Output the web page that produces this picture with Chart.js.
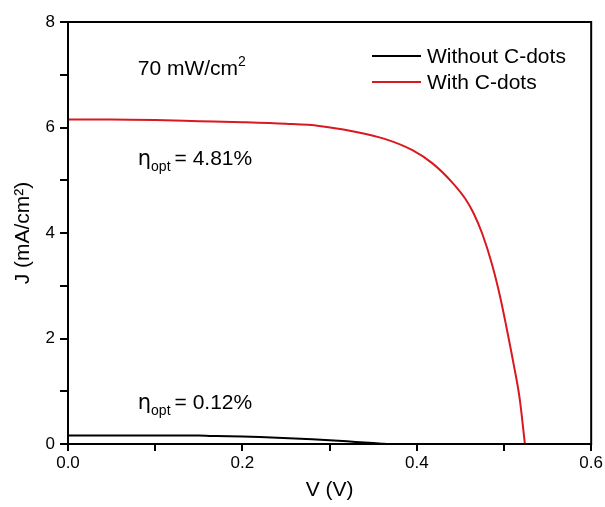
<!DOCTYPE html>
<html>
<head>
<meta charset="utf-8">
<script src="https://cdn.jsdelivr.net/npm/chart.js@4"></script>
<style>
  html, body { margin: 0; padding: 0; background: #fff; }
  #wrap { width: 605px; height: 507px; }
</style>
</head>
<body>
<div id="wrap"><canvas id="myChart" width="605" height="507"></canvas></div>
<script>
// courbes J-V
const withV = [0, 0.05, 0.10, 0.15, 0.20, 0.25, 0.288, 0.326, 0.364, 0.395, 0.418, 0.440, 0.456, 0.465, 0.475, 0.486, 0.496, 0.503, 0.511, 0.518, 0.524];
const withJ = [6.15, 6.15, 6.14, 6.12, 6.10, 6.07, 6.03, 5.93, 5.78, 5.57, 5.32, 4.97, 4.64, 4.38, 3.99, 3.42, 2.76, 2.20, 1.52, 0.86, 0.0];

const withoutV = [0, 0.05, 0.10, 0.15, 0.17, 0.20, 0.24, 0.28, 0.32, 0.34, 0.36, 0.365];
const withoutJ = [0.16, 0.16, 0.16, 0.16, 0.15, 0.14, 0.12, 0.09, 0.05, 0.03, 0.005, 0];

const seriesLabels = ["Without C-dots", "With C-dots"];
const xTickLabels = ["0.0", "0.2", "0.4", "0.6"];
const yTickLabels = ["0", "2", "4", "6", "8"];

const FONT = "'Liberation Sans', Arial, sans-serif";
const RED = "rgb(218, 24, 32)";

function toPoints(xs, ys) {
  return xs.map((v, i) => ({ x: v, y: ys[i] }));
}

// cadre, légende et annotations
const extras = {
  id: "extras",
  afterDraw(chart) {
    const { ctx, chartArea: a, scales } = chart;
    ctx.save();
    ctx.strokeStyle = "#000";
    ctx.lineWidth = 2;
    ctx.strokeRect(a.left, a.top, a.right - a.left, a.bottom - a.top);

    // légende
    ctx.font = "21px " + FONT;
    ctx.textBaseline = "middle";
    chart.data.datasets.forEach((ds, i) => {
      const y = 56 + i * 26;
      ctx.strokeStyle = ds.borderColor;
      ctx.lineWidth = 2;
      ctx.beginPath();
      ctx.moveTo(372, y);
      ctx.lineTo(421, y);
      ctx.stroke();
      ctx.fillStyle = "#000";
      ctx.fillText(ds.label, 427, y + 1);
    });

    // texte
    const x0 = scales.x.getPixelForValue(0.08);
    ctx.textBaseline = "alphabetic";
    ctx.fillStyle = "#000";
    ctx.font = "21px " + FONT;
    const y1 = scales.y.getPixelForValue(7.0);
    ctx.fillText("70 mW/cm", x0, y1);
    let w = ctx.measureText("70 mW/cm").width;
    ctx.font = "14px " + FONT;
    ctx.fillText("2", x0 + w, y1 - 9);

    function eta(txt, yv) {
      const y = scales.y.getPixelForValue(yv);
      ctx.font = "21px 'DejaVu Sans', sans-serif";
      ctx.fillText("\u03b7", x0, y);
      let xx = x0 + ctx.measureText("\u03b7").width;
      ctx.font = "14px " + FONT;
      ctx.fillText("opt", xx, y + 6);
      xx += ctx.measureText("opt").width + 4;
      ctx.font = "21px " + FONT;
      ctx.fillText(txt, xx, y);
    }
    eta("= 4.81%", 5.29);
    eta("= 0.12%", 0.66);
    ctx.restore();
  }
};

const ctx = document.getElementById("myChart").getContext("2d");
const myChart = new Chart(ctx, {
  type: "line",
  data: {
    datasets: [
      {
        label: seriesLabels[0],
        data: toPoints(withoutV, withoutJ),
        borderColor: "#000",
        borderWidth: 2,
        pointRadius: 0,
        tension: 0.2,
      },
      {
        label: seriesLabels[1],
        data: toPoints(withV, withJ),
        borderColor: RED,
        borderWidth: 2,
        pointRadius: 0,
        cubicInterpolationMode: "monotone",
      },
    ],
  },
  options: {
    responsive: false,
    animation: false,
    layout: { padding: { top: 22, right: 12, left: 0, bottom: 0 } },
    plugins: { legend: { display: false }, tooltip: { enabled: false } },
    scales: {
      x: {
        type: "linear",
        min: 0,
        max: 0.6,
        afterFit: (s) => { s.height = 63; },
        afterBuildTicks: (s) => {
          s.ticks = [0, 0.1, 0.2, 0.3, 0.4, 0.5, 0.6].map((v) => ({ value: v }));
        },
        ticks: {
          color: "#000",
          font: { family: FONT, size: 17 },
          padding: 2,
          maxRotation: 0,
          callback: (v) => {
            const i = Math.round(v * 10);
            return i % 2 === 0 ? xTickLabels[i / 2] : "";
          },
        },
        grid: { drawOnChartArea: false, tickLength: 7, color: "#000", lineWidth: 2 },
        border: { color: "#000", width: 2 },
        title: {
          display: true,
          text: "V (V)",
          color: "#000",
          font: { family: FONT, size: 21 },
          padding: { top: 1 },
        },
      },
      y: {
        min: 0,
        max: 8,
        afterFit: (s) => { s.width = 68; },
        ticks: {
          stepSize: 1,
          color: "#000",
          font: { family: FONT, size: 17 },
          padding: 5,
          callback: (v) => (v % 2 === 0 ? yTickLabels[v / 2] : ""),
        },
        grid: { drawOnChartArea: false, tickLength: 8, color: "#000", lineWidth: 2 },
        border: { color: "#000", width: 2 },
        title: {
          display: true,
          text: "J (mA/cm\u00b2)",
          color: "#000",
          font: { family: FONT, size: 21 },
          padding: { top: 11, bottom: 0 },
        },
      },
    },
  },
  plugins: [extras],
});
</script>
</body>
</html>
